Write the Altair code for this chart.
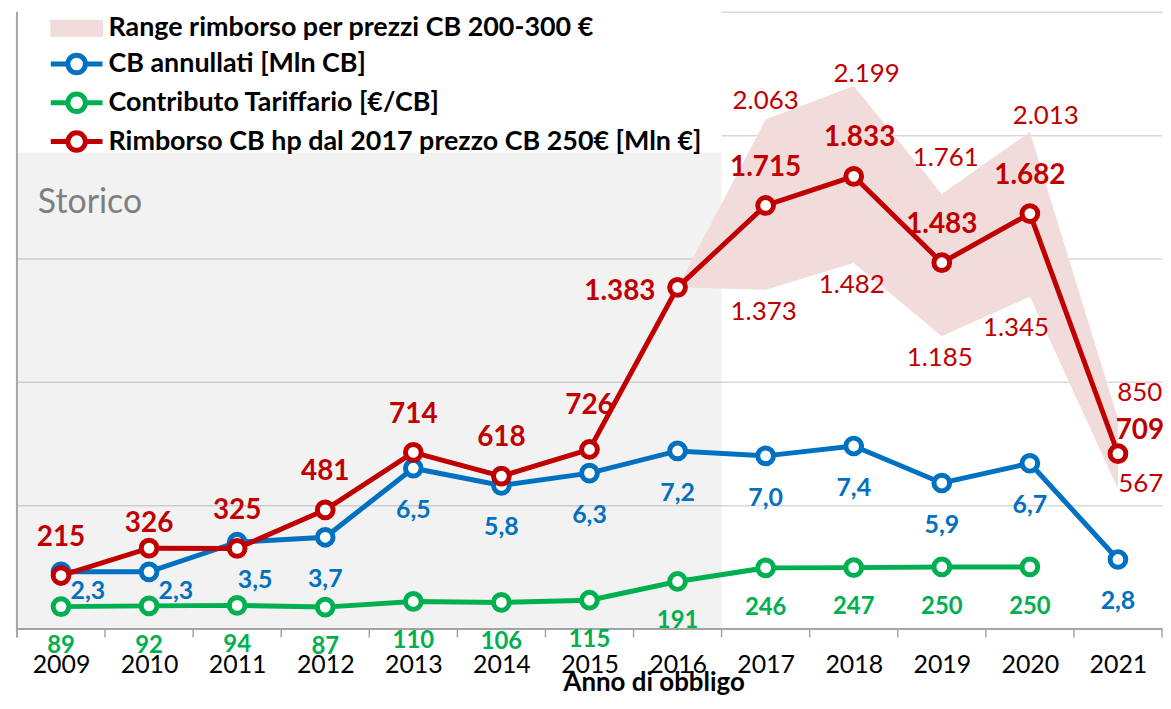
import altair as alt
import pandas as pd

# ---------------- data ----------------
years = list(range(2009, 2022))
cb_annullati = [2.3, 2.3, 3.5, 3.7, 6.5, 5.8, 6.3, 7.2, 7.0, 7.4, 5.9, 6.7, 2.8]
contributo = [89, 92, 94, 87, 110, 106, 115, 191, 246, 247, 250, 250, None]
rimborso = [215, 326, 325, 481, 714, 618, 726, 1383, 1715, 1833, 1483, 1682, 709]
range_years = [2016, 2017, 2018, 2019, 2020, 2021]
range_low = [1383, 1373, 1482, 1185, 1345, 567]
range_high = [1383, 2063, 2199, 1761, 2013, 850]
storico_years = [2009, 2016]
storico_top = 1930
y_ticks = [0, 500, 1000, 1500, 2000, 2500]
CB_FACTOR = 100  # CB annullati drawn on a secondary scale (x100)
series = [
    "Range rimborso per prezzi CB 200-300 €",
    "CB annullati [Mln CB]",
    "Contributo Tariffario [€/CB]",
    "Rimborso CB hp dal 2017 prezzo CB 250€ [Mln €]",
]

RED = "#C00000"
BLUE = "#0070C0"
GREEN = "#00B050"
PINK = "#F2DCDB"
AXIS_GRAY = "#A6A6A6"
FONT = "Lato"
W, H = 1151, 620


def it_int(v):
    return f"{int(v):,}".replace(",", ".")


def it_dec(v):
    return f"{v:.1f}".replace(".", ",")


df = pd.DataFrame({"year": years, "cb": cb_annullati, "contrib": contributo, "rimb": rimborso})
df["cb_lbl"] = [it_dec(v) for v in cb_annullati]
df["contrib_lbl"] = [it_int(v) if v is not None else "" for v in contributo]
df["rimb_lbl"] = [it_int(v) for v in rimborso]

rdf = pd.DataFrame({"year": range_years, "low": range_low, "high": range_high})
rdf["low_lbl"] = [it_int(v) for v in range_low]
rdf["high_lbl"] = [it_int(v) for v in range_high]

sdf = pd.DataFrame({"x0": [storico_years[0] - 0.5], "x1": [storico_years[1] + 0.5], "top": [storico_top]})
tdf = pd.DataFrame({"tick": [y - 0.5 for y in years] + [years[-1] + 0.5]})
adf = pd.DataFrame({"tick": [years[0] - 0.5]})
ldf = pd.DataFrame({"series": series, "year": [years[0]] * len(series), "v": [0] * len(series)})

# ---------------- scales / axes ----------------
xs = alt.Scale(domain=[years[0] - 0.5, years[-1] + 0.5], nice=False, zero=False)
ys = alt.Scale(domain=[y_ticks[0], y_ticks[-1]], nice=False)
x_axis = alt.Axis(
    values=years, format="d", ticks=False, grid=False,
    domainColor=AXIS_GRAY, domainWidth=2,
    labelFontSize=25, labelColor="black", labelPadding=36, labelBaseline="middle",
    labelFlush=False, labelOverlap=False,
    title="Anno di obbligo", titleFontSize=26, titleFontWeight="bold", titleColor="black",
    titleX=640, titleY=54, titleBaseline="middle",
)
y_axis = alt.Axis(
    values=y_ticks, labels=False, ticks=False, grid=True, domain=False,
    gridColor="#D9D9D9", gridWidth=1.5,
)


def X(f):
    return alt.X(f"{f}:Q", scale=xs, axis=x_axis)


def Y(f):
    return alt.Y(f"{f}:Q", scale=ys, axis=y_axis, title=None)


layers = []

# white area above the "Storico" block (legend zone)
layers.append(alt.Chart(sdf).mark_rect(color="white").encode(x=X("x0"), x2="x1", y=Y("top"), y2=alt.value(-3)))
# Storico block
layers.append(alt.Chart(sdf).mark_rect(color="black", opacity=0.05).encode(x=X("x0"), x2="x1", y=Y("top"), y2=alt.datum(0)))
layers.append(alt.Chart(sdf).mark_text(text="Storico", align="left", baseline="middle", dx=21, dy=51,
                                        fontSize=34, color="#7F7F7F").encode(x=X("x0"), y=Y("top")))
# range band
layers.append(alt.Chart(rdf).mark_area(color=PINK, opacity=1).encode(x=X("year"), y=Y("low"), y2="high"))

# axis ticks between categories and left axis line
layers.append(alt.Chart(tdf).mark_rule(color=AXIS_GRAY, strokeWidth=1.5).encode(
    x=X("tick"), y=alt.value(H), y2=alt.value(H + 9)))
layers.append(alt.Chart(adf).mark_rule(color=AXIS_GRAY, strokeWidth=2).encode(
    x=X("tick"), y=alt.value(0), y2=alt.value(H + 9)))


def line_and_points(yfield, color, calc=None):
    base = alt.Chart(df)
    if calc is not None:
        base = base.transform_calculate(**calc)
    ln = base.mark_line(color=color, strokeWidth=5).encode(x=X("year"), y=Y(yfield))
    pt = base.transform_filter(f"isValid(datum.{yfield})").mark_point(
        shape="circle", filled=True, fill="white", stroke=color, strokeWidth=5, size=250, opacity=1
    ).encode(x=X("year"), y=Y(yfield))
    return [ln, pt]


cb_calc = {"cb_y": f"datum.cb * {CB_FACTOR}"}
layers += line_and_points("contrib", GREEN)
layers += line_and_points("cb_y", BLUE, cb_calc)
layers += line_and_points("rimb", RED)


def lbl(data, yfield, tfield, color, sel, dx=0, dy=0, size=25, weight="normal", calc=None):
    ch = alt.Chart(data)
    if calc is not None:
        ch = ch.transform_calculate(**calc)
    ch = ch.transform_filter(alt.FieldOneOfPredicate(field="year", oneOf=sel))
    return ch.mark_text(color=color, fontSize=size, fontWeight=weight, dx=dx, dy=dy,
                        align="center", baseline="middle").encode(
        x=X("year"), y=Y(yfield), text=f"{tfield}:N")


# green labels
layers.append(lbl(df, "contrib", "contrib_lbl", GREEN, years[:-1], dy=40, size=24, weight="bold"))
# blue labels
layers.append(lbl(df, "cb_y", "cb_lbl", BLUE, [2009, 2010], dx=27, dy=19, weight="bold", calc=cb_calc))
layers.append(lbl(df, "cb_y", "cb_lbl", BLUE, [2011], dx=18, dy=38, weight="bold", calc=cb_calc))
layers.append(lbl(df, "cb_y", "cb_lbl", BLUE, [2012, 2013, 2014, 2015, 2016, 2017, 2018, 2019, 2020, 2021],
                  dy=42, weight="bold", calc=cb_calc))
# red bold labels
RB = 28
layers.append(lbl(df, "rimb", "rimb_lbl", RED, [2009, 2011, 2012, 2013, 2014, 2017, 2019, 2020], dy=-38, size=RB, weight="bold"))
layers.append(lbl(df, "rimb", "rimb_lbl", RED, [2010], dy=-24, size=RB, weight="bold"))
layers.append(lbl(df, "rimb", "rimb_lbl", RED, [2015], dy=-44, size=RB, weight="bold"))
layers.append(lbl(df, "rimb", "rimb_lbl", RED, [2018], dx=6, dy=-38, size=RB, weight="bold"))
layers.append(lbl(df, "rimb", "rimb_lbl", RED, [2016], dx=-58, dy=5, size=RB, weight="bold"))
layers.append(lbl(df, "rimb", "rimb_lbl", RED, [2021], dx=22, dy=-23, size=RB, weight="bold"))
# range labels
RN = 26
layers.append(lbl(rdf, "high", "high_lbl", RED, [2017], dy=-19, size=RN))
layers.append(lbl(rdf, "high", "high_lbl", RED, [2018], dx=13, dy=-12, size=RN))
layers.append(lbl(rdf, "high", "high_lbl", RED, [2019], dx=4, dy=-36, size=RN))
layers.append(lbl(rdf, "high", "high_lbl", RED, [2020], dx=16, dy=-16, size=RN))
layers.append(lbl(rdf, "high", "high_lbl", RED, [2021], dx=22, dy=-26, size=RN))
layers.append(lbl(rdf, "low", "low_lbl", RED, [2017, 2018, 2019], dx=-2, dy=22, size=RN))
layers.append(lbl(rdf, "low", "low_lbl", RED, [2020], dx=-14, dy=31, size=RN))
layers.append(lbl(rdf, "low", "low_lbl", RED, [2021], dx=23, dy=-5, size=RN))

# legend (hidden carrier layer)
line_sym = "M-3.25,0L-1.1,0M1.1,0L3.25,0M1.1,0A1.1,1.1 0 1,1 -1.1,0A1.1,1.1 0 1,1 1.1,0Z"
rect_sym = "M-3,-0.75L3,-0.75L3,0.75L-3,0.75Z"
legend = alt.Legend(
    title=None, orient="none", legendX=30.5, legendY=3,
    labelFont=FONT, labelFontSize=27, labelFontWeight="bold", labelColor="black",
    symbolSize=256, symbolStrokeWidth=5, symbolOffset=16, labelOffset=18.5,
    rowPadding=0, padding=0, labelLimit=1000, symbolOpacity=1,
)
layers.append(alt.Chart(ldf).mark_point(filled=True, opacity=0, strokeWidth=5).encode(
    x=X("year"), y=Y("v"),
    stroke=alt.Stroke("series:N", scale=alt.Scale(domain=series, range=[PINK, BLUE, GREEN, RED]), legend=legend),
    fill=alt.Fill("series:N", scale=alt.Scale(domain=series, range=[PINK, "white", "white", "white"]), legend=legend),
    shape=alt.Shape("series:N", scale=alt.Scale(domain=series, range=[rect_sym, line_sym, line_sym, line_sym]), legend=legend),
))

chart = alt.layer(*layers).properties(
    width=W, height=H,
    autosize=alt.AutoSizeParams(type="none"),
    padding={"left": 9, "top": 2, "right": 1, "bottom": 70},
).configure(font=FONT, view=alt.ViewConfig(strokeWidth=0))

chart.save("out.html", embed_options={"renderer": "svg", "actions": False})
